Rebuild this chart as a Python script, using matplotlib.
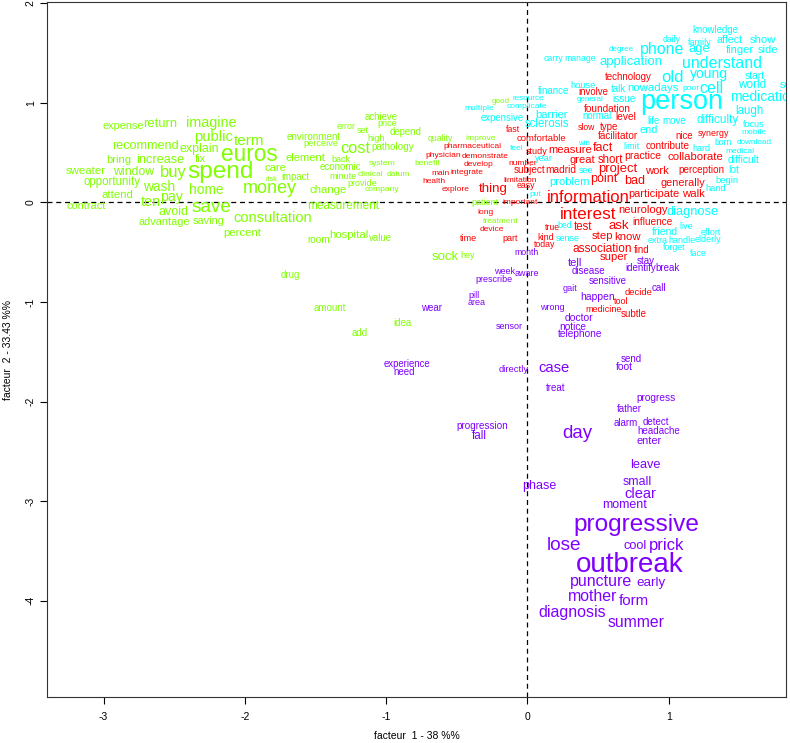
import matplotlib
matplotlib.use("Agg")
import matplotlib.pyplot as plt

plt.rcParams['font.family'] = ['Liberation Sans', 'DejaVu Sans']
plt.rcParams['axes.unicode_minus'] = False

# rainbow(4) colours, one per class
class_colors = ['#FF0000', '#80FF00', '#00FFFF', '#8000FF']

# (word, factor 1, factor 2, chi2)
class1 = [
    ("technology", 0.715, 1.254, 20), ("involve", 0.467, 1.103, 19),
    ("foundation", 0.566, 0.933, 22), ("level", 0.694, 0.853, 23),
    ("slow", 0.418, 0.752, 12), ("type", 0.58, 0.752, 20),
    ("facilitator", 0.644, 0.662, 22), ("nice", 1.11, 0.662, 19),
    ("synergy", 1.316, 0.692, 14), ("fast", -0.10, 0.732, 13),
    ("comfortable", 0.10, 0.642, 18), ("pharmaceutical", -0.39, 0.562, 11),
    ("physician", -0.594, 0.471, 11), ("demonstrate", -0.297, 0.461, 10),
    ("develop", -0.347, 0.381, 10), ("number", -0.035, 0.391, 10),
    ("study", 0.064, 0.512, 15), ("measure", 0.304, 0.522, 31),
    ("fact", 0.538, 0.542, 40), ("contribute", 0.99, 0.562, 22),
    ("great", 0.39, 0.421, 31), ("short", 0.587, 0.421, 33),
    ("practice", 0.814, 0.461, 26), ("collaborate", 1.19, 0.451, 32),
    ("madrid", 0.234, 0.321, 23), ("project", 0.637, 0.331, 44),
    ("work", 0.913, 0.311, 31), ("perception", 1.23, 0.321, 21),
    ("subject", 0.014, 0.321, 22), ("main", -0.616, 0.291, 10),
    ("integrate", -0.43, 0.301, 10), ("health", -0.665, 0.21, 10),
    ("limitation", -0.05, 0.22, 10), ("explore", -0.51, 0.13, 10),
    ("easy", -0.014, 0.17, 13), ("thing", -0.24, 0.13, 45),
    ("point", 0.538, 0.23, 40), ("bad", 0.757, 0.21, 41),
    ("generally", 1.097, 0.19, 28), ("participate", 0.892, 0.08, 29),
    ("walk", 1.175, 0.08, 32), ("information", 0.432, 0.05, 70),
    ("important", -0.05, 0.0, 10), ("long", -0.30, -0.10, 10),
    ("device", -0.25, -0.27, 10), ("time", -0.42, -0.36, 15),
    ("part", -0.12, -0.36, 15), ("interest", 0.432, -0.12, 73),
    ("neurology", 0.82, -0.08, 31), ("true", 0.177, -0.25, 13),
    ("test", 0.396, -0.25, 33), ("ask", 0.65, -0.24, 45),
    ("influence", 0.885, -0.20, 22), ("kind", 0.127, -0.35, 15),
    ("step", 0.53, -0.34, 32), ("know", 0.708, -0.35, 32),
    ("today", 0.12, -0.42, 13), ("association", 0.53, -0.47, 36),
    ("find", 0.807, -0.48, 20), ("super", 0.61, -0.55, 32),
    ("decide", 0.785, -0.91, 18), ("tool", 0.665, -1.00, 15),
    ("medicine", 0.538, -1.08, 15), ("subtle", 0.75, -1.12, 20),
]

class2 = [
    ("good", -0.19, 1.013, 8), ("expense", -2.86, 0.762, 28),
    ("return", -2.60, 0.782, 44), ("imagine", -2.236, 0.792, 54),
    ("public", -2.22, 0.652, 57), ("term", -1.967, 0.612, 60),
    ("recommend", -2.70, 0.562, 41), ("explain", -2.32, 0.532, 39),
    ("euros", -1.967, 0.481, 113), ("bring", -2.894, 0.421, 31),
    ("increase", -2.60, 0.421, 42), ("fix", -2.314, 0.431, 29),
    ("sweater", -3.128, 0.311, 32), ("window", -2.788, 0.301, 38),
    ("buy", -2.505, 0.301, 69), ("spend", -2.173, 0.301, 126),
    ("care", -1.783, 0.341, 31), ("risk", -1.81, 0.231, 5),
    ("opportunity", -2.937, 0.20, 33), ("wash", -2.61, 0.15, 49),
    ("home", -2.27, 0.12, 49), ("money", -1.82, 0.14, 80),
    ("attend", -2.90, 0.07, 32), ("pay", -2.52, 0.05, 52),
    ("ten", -2.668, 0.0, 54), ("save", -2.236, -0.05, 86),
    ("contract", -3.12, -0.04, 29), ("avoid", -2.505, -0.10, 40),
    ("advantage", -2.57, -0.20, 29), ("saving", -2.258, -0.19, 29),
    ("consultation", -1.805, -0.16, 55), ("percent", -2.017, -0.31, 32),
    ("achieve", -1.033, 0.853, 19), ("error", -1.28, 0.762, 15),
    ("set", -1.168, 0.722, 15), ("price", -0.99, 0.792, 15),
    ("depend", -0.863, 0.702, 19), ("environment", -1.514, 0.652, 21),
    ("perceive", -1.458, 0.592, 17), ("high", -1.069, 0.642, 16),
    ("pathology", -0.955, 0.552, 21), ("quality", -0.616, 0.642, 13),
    ("improve", -0.333, 0.642, 11), ("cost", -1.217, 0.542, 68),
    ("element", -1.571, 0.441, 31), ("back", -1.323, 0.431, 15),
    ("system", -1.026, 0.391, 11), ("benefit", -0.708, 0.391, 11),
    ("economic", -1.323, 0.351, 20), ("impact", -1.642, 0.25, 19),
    ("minute", -1.302, 0.26, 15), ("clinical", -1.111, 0.28, 10),
    ("datum", -0.913, 0.28, 10), ("provide", -1.168, 0.19, 15),
    ("company", -1.026, 0.13, 11), ("change", -1.408, 0.12, 32),
    ("measurement", -1.302, -0.04, 35), ("hospital", -1.26, -0.33, 32),
    ("room", -1.479, -0.38, 22), ("value", -1.04, -0.36, 20),
    ("patient", -0.297, 0.0, 15), ("treatment", -0.19, -0.19, 10),
    ("sock", -0.58, -0.55, 45), ("hey", -0.425, -0.53, 15),
    ("drug", -1.677, -0.73, 20), ("amount", -1.40, -1.06, 20),
    ("idea", -0.885, -1.21, 20), ("add", -1.19, -1.31, 20),
]

class3 = [
    ("knowledge", 1.33, 1.725, 19), ("daily", 1.02, 1.635, 12),
    ("family", 1.217, 1.605, 15), ("affect", 1.43, 1.625, 27),
    ("show", 1.67, 1.625, 32), ("degree", 0.665, 1.535, 8),
    ("phone", 0.955, 1.535, 65), ("age", 1.217, 1.535, 44),
    ("finger", 1.507, 1.525, 30), ("side", 1.70, 1.525, 30),
    ("carry", 0.184, 1.444, 13), ("manage", 0.375, 1.444, 13),
    ("application", 0.736, 1.404, 45), ("understand", 1.38, 1.394, 65),
    ("old", 1.026, 1.254, 70), ("young", 1.288, 1.284, 50),
    ("start", 1.607, 1.264, 24), ("school", 1.90, 1.18, 30),
    ("house", 0.396, 1.173, 17), ("finance", 0.184, 1.113, 21),
    ("talk", 0.644, 1.133, 19), ("nowadays", 0.892, 1.143, 32),
    ("poor", 1.16, 1.143, 10), ("cell", 1.30, 1.143, 65),
    ("world", 1.59, 1.173, 35), ("general", 0.446, 1.033, 8),
    ("issue", 0.686, 1.033, 22), ("person", 1.09, 1.003, 145),
    ("medication", 1.67, 1.053, 50), ("laugh", 1.57, 0.913, 33),
    ("resource", 0.007, 1.043, 9), ("complicate", -0.007, 0.963, 10),
    ("multiple", -0.34, 0.943, 11), ("expensive", -0.177, 0.843, 19),
    ("barrier", 0.17, 0.873, 30), ("sclerosis", 0.14, 0.782, 33),
    ("normal", 0.495, 0.863, 19), ("life", 0.89, 0.812, 20),
    ("move", 1.04, 0.812, 20), ("difficulty", 1.345, 0.822, 35),
    ("focus", 1.60, 0.782, 15), ("mobile", 1.60, 0.702, 10),
    ("end", 0.856, 0.722, 29), ("win", 0.403, 0.592, 8),
    ("limit", 0.736, 0.562, 15), ("hard", 1.23, 0.542, 15),
    ("born", 1.387, 0.602, 12), ("download", 1.607, 0.602, 9),
    ("medical", 1.507, 0.512, 10), ("difficult", 1.528, 0.421, 24),
    ("feel", -0.078, 0.542, 10), ("year", 0.12, 0.441, 16),
    ("see", 0.418, 0.321, 14), ("lot", 1.458, 0.321, 25),
    ("problem", 0.297, 0.20, 30), ("begin", 1.415, 0.22, 18),
    ("hand", 1.33, 0.14, 17), ("put", 0.057, 0.08, 10),
    ("diagnose", 1.168, -0.10, 43), ("bed", 0.262, -0.23, 13),
    ("friend", 0.97, -0.30, 25), ("live", 1.125, -0.24, 15),
    ("effort", 1.295, -0.30, 15), ("sense", 0.283, -0.36, 15),
    ("extra", 0.92, -0.38, 15), ("handle", 1.097, -0.38, 15),
    ("elderly", 1.28, -0.37, 15), ("forget", 1.04, -0.45, 13),
    ("face", 1.21, -0.51, 15),
]

class4 = [
    ("month", -0.007, -0.50, 13), ("week", -0.163, -0.69, 15),
    ("aware", -0.007, -0.71, 15), ("prescribe", -0.234, -0.77, 15),
    ("pill", -0.375, -0.94, 15), ("area", -0.36, -1.01, 15),
    ("wear", -0.68, -1.06, 20), ("sensor", -0.127, -1.25, 15),
    ("experience", -0.85, -1.62, 19), ("need", -0.87, -1.70, 20),
    ("directly", -0.10, -1.675, 18), ("tell", 0.34, -0.61, 30),
    ("stay", 0.835, -0.59, 20), ("identify", 0.80, -0.66, 20),
    ("break", 0.99, -0.66, 20), ("disease", 0.43, -0.69, 20),
    ("sensitive", 0.566, -0.79, 20), ("gait", 0.304, -0.87, 15),
    ("call", 0.927, -0.86, 20), ("happen", 0.50, -0.95, 25),
    ("wrong", 0.177, -1.06, 15), ("doctor", 0.368, -1.16, 25),
    ("notice", 0.318, -1.25, 23), ("telephone", 0.375, -1.32, 23),
    ("send", 0.736, -1.57, 20), ("foot", 0.686, -1.655, 25),
    ("case", 0.19, -1.665, 56), ("treat", 0.198, -1.865, 20),
    ("progress", 0.913, -1.966, 23), ("father", 0.72, -2.076, 21),
    ("alarm", 0.694, -2.217, 20), ("detect", 0.906, -2.207, 20),
    ("headache", 0.927, -2.297, 21), ("enter", 0.863, -2.397, 29),
    ("day", 0.354, -2.317, 84), ("progression", -0.318, -2.247, 21),
    ("fall", -0.34, -2.347, 34), ("leave", 0.835, -2.637, 42),
    ("phase", 0.085, -2.848, 40), ("small", 0.778, -2.808, 39),
    ("clear", 0.80, -2.929, 55), ("moment", 0.686, -3.039, 40),
    ("progressive", 0.771, -3.24, 126), ("lose", 0.262, -3.44, 87),
    ("cool", 0.764, -3.45, 42), ("prick", 0.984, -3.44, 70),
    ("outbreak", 0.722, -3.64, 150), ("puncture", 0.524, -3.81, 65),
    ("early", 0.878, -3.82, 46), ("mother", 0.46, -3.96, 64),
    ("form", 0.75, -4.00, 58), ("diagnosis", 0.318, -4.12, 65),
    ("summer", 0.771, -4.22, 63),
]

x_ticks = [-3, -2, -1, 0, 1]
y_ticks = [-4, -3, -2, -1, 0, 1, 2]

fig = plt.figure(figsize=(7.9, 7.43), dpi=100)
ax = fig.add_axes([0.0595, 0.0619, 0.9354, 0.9354])

for cls, color in zip([class1, class2, class3, class4], class_colors):
    for word, f1, f2, chi2 in cls:
        ax.text(f1, f2, word, color=color, fontsize=5 + chi2 / 10.0,
                ha='center', va='center', clip_on=True)

ax.axhline(0, color='black', linestyle=(0, (4, 3)), linewidth=0.9)
ax.axvline(0, color='black', linestyle=(0, (4, 3)), linewidth=0.9)

ax.set_xlim(-3.40, 1.83)
ax.set_ylim(-4.965, 2.01)
ax.set_xticks(x_ticks)
ax.set_yticks(y_ticks)
ax.set_xticklabels([str(t) for t in x_ticks])
ax.set_yticklabels([str(t) for t in y_ticks], rotation=90, va='center')
ax.tick_params(direction='out', length=5, width=0.8, labelsize=7.5)
ax.tick_params(axis='x', pad=6)
ax.tick_params(axis='y', pad=3)
for s in ax.spines.values():
    s.set_linewidth(0.8)
    s.set_color('#333333')

ax.set_xlabel('facteur  1 - 38 %%', fontsize=7.5, labelpad=6)
ax.set_ylabel('facteur  2 - 33.43 %%', fontsize=7.5, labelpad=9)

fig.savefig('out.png', dpi=100)
